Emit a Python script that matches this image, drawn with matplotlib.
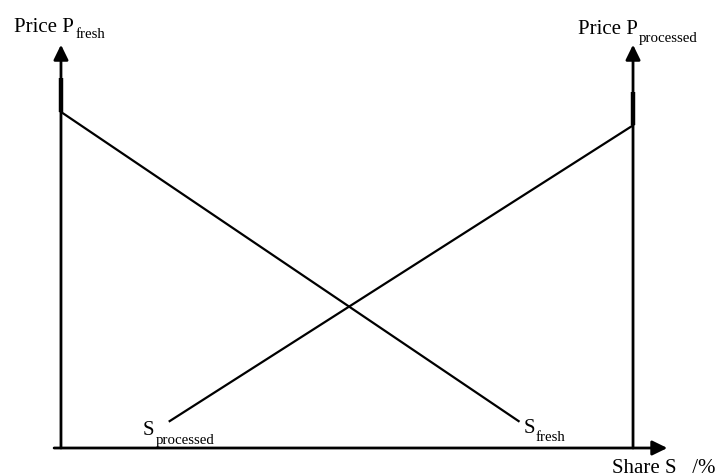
import matplotlib.pyplot as plt

plt.rcParams['font.family'] = ['Liberation Serif', 'DejaVu Serif']

# diagram data (share in %, price in arbitrary units)
fresh_share = [0, 80]
fresh_price = [100, 8]
proc_share = [19, 100]
proc_price = [8, 96]

# short heavy stubs on the price axes above where the curves meet them
fresh_stub = [100, 110]
proc_stub = [96, 106]

axis_top = 120
share_end = 106

fig = plt.figure(figsize=(7.19, 4.77), dpi=100)
ax = fig.add_axes([0, 0, 1, 1])
ax.set_xlim(-10.66, 115.03)
ax.set_ylim(-8.33, 133.6)
ax.axis('off')

arrow = dict(arrowstyle='-|>,head_length=0.45,head_width=0.22', lw=2,
             color='black', mutation_scale=20, shrinkA=0, shrinkB=0)

# axes with arrows
ax.annotate('', xy=(0, axis_top), xytext=(0, 0), arrowprops=arrow)
ax.annotate('', xy=(100, axis_top), xytext=(100, 0), arrowprops=arrow)
ax.annotate('', xy=(share_end, 0), xytext=(-1.2, 0), arrowprops=arrow)

ax.plot([0, 0], fresh_stub, color='black', lw=3.2, solid_capstyle='butt')
ax.plot([100, 100], proc_stub, color='black', lw=3.2, solid_capstyle='butt')

# supply curves
ax.plot(fresh_share, fresh_price, color='black', lw=1.6)
ax.plot(proc_share, proc_price, color='black', lw=1.6)


def label(x, y, main, sub, dy):
    t = ax.text(x, y, main, fontsize=15, va='baseline', ha='left')
    ax.annotate(sub, xy=(1, 0), xycoords=t, xytext=(0.8, -dy),
                textcoords='offset points', fontsize=10.7, va='bottom',
                ha='left')


label(-8.2, 124, 'Price P', 'fresh', 3)
label(90.3, 123.5, 'Price P', 'processed', 4.5)
label(14.3, 4.2, 'S', 'processed', 5)
label(80.8, 4.7, 'S', 'fresh', 4)
ax.text(96.3, -7.1, 'Share S   /%', fontsize=15, va='baseline', ha='left')

fig.savefig('out.png', dpi=100)
